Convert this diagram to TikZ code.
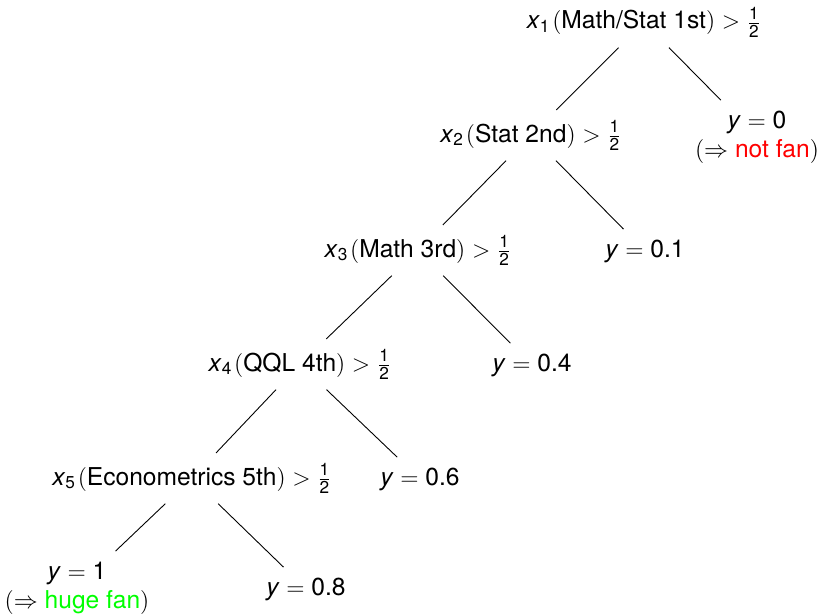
\documentclass[tikz,border=0pt]{standalone}
\usepackage{fontspec}
\setmainfont{TeX Gyre Heros}
\usepackage{amsmath}
\newcommand{\xv}[1]{\textit{x}$_{\text{#1}}$\kern0.9pt}
\newcommand{\yv}{\textit{y}${}={}$}
\newcommand{\gthalf}{$)>\frac{\text{1}}{\text{2}}$}
\tikzset{
  tn/.style={anchor=base, inner sep=5pt, align=center, font=\fontsize{12.3}{14.5}\selectfont},
  edge/.style={draw=black, line width=0.45pt}
}
\begin{document}
\begin{tikzpicture}[x=0.5pt, y=-0.5pt]
\useasboundingbox (0,0) rectangle (822,615);
\node[tn] (n1) at (644,29) {\xv{1}$($Math/Stat 1st\gthalf};
\node[tn] (n2) at (531,142) {\xv{2}$($Stat 2nd\gthalf};
\node[tn] (n3) at (418,257) {\xv{3}$($Math 3rd\gthalf};
\node[tn] (n4) at (300,371) {\xv{4}$($QQL 4th\gthalf};
\node[tn] (n5) at (192,485) {\xv{5}$($Econometrics 5th\gthalf};
\node[tn] (l0) at (757,157) {\yv 0\\$($$\Rightarrow$ \textcolor{red}{not fan}$)$};
\node[tn] (l1) at (645,257) {\yv 0.1};
\node[tn] (l4) at (532,371) {\yv 0.4};
\node[tn] (l6) at (420,485) {\yv 0.6};
\node[tn] (lh) at (77,608) {\yv 1\\$($$\Rightarrow$ \textcolor{green}{huge fan}$)$};
\node[tn] (l8) at (306,595) {\yv 0.8};
\draw[edge] (n1) -- (n2);
\draw[edge] (n1) -- (l0);
\draw[edge] (n2) -- (n3);
\draw[edge] (n2) -- (l1);
\draw[edge] (n3) -- (n4);
\draw[edge] (n3) -- (l4);
\draw[edge] (n4) -- (n5);
\draw[edge] (n4) -- (l6);
\draw[edge] (n5) -- (lh);
\draw[edge] (n5) -- (l8);
\end{tikzpicture}
\end{document}
